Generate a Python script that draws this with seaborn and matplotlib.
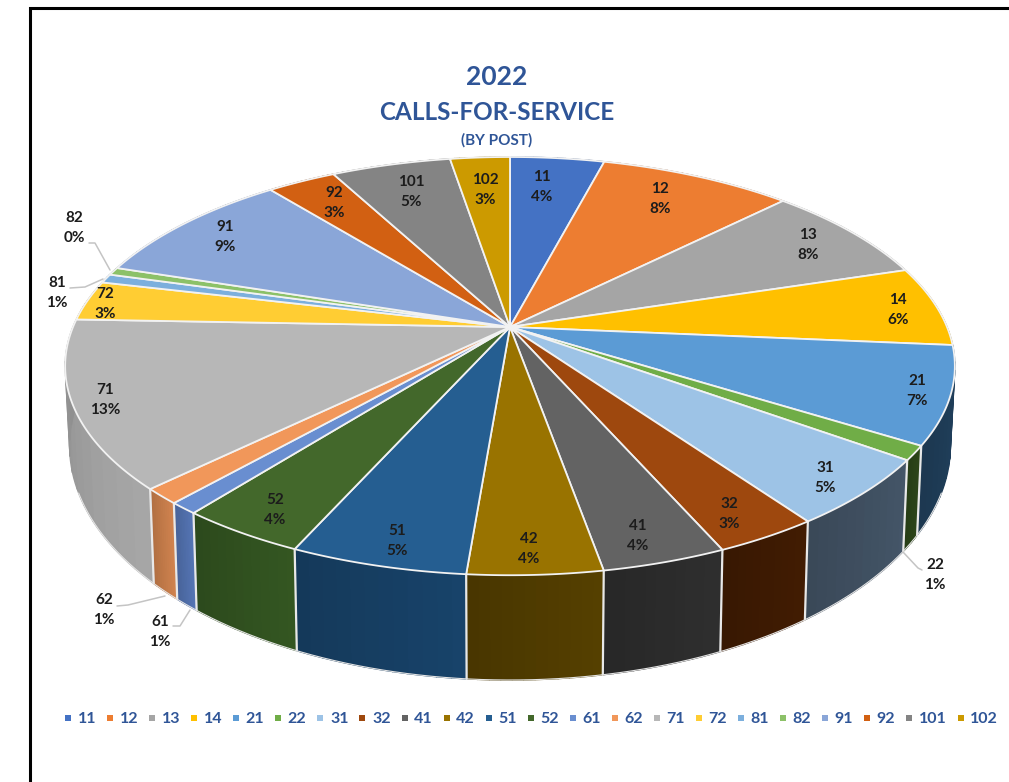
import numpy as np
import pandas as pd
import matplotlib
matplotlib.use("Agg")
import matplotlib.pyplot as plt
import matplotlib.colors as mcolors
import seaborn as sns

sns.set_theme(style="white")
plt.rcParams["font.family"] = ["Lato", "DejaVu Sans"]

# data
posts = ["11", "12", "13", "14", "21", "22", "31", "32", "41", "42", "51",
         "52", "61", "62", "71", "72", "81", "82", "91", "92", "101", "102"]
shares = [4.1, 8.4, 7.7, 6.2, 7.5, 1.1, 5.2, 3.2, 3.8, 4.1, 5.4,
          3.9, 0.9, 1.2, 12.9, 3.1, 0.7, 0.6, 9.2, 3.0, 5.2, 2.6]
share_labels = ["4%", "8%", "8%", "6%", "7%", "1%", "5%", "3%", "4%", "4%", "5%",
                "4%", "1%", "1%", "13%", "3%", "1%", "0%", "9%", "3%", "5%", "3%"]

top_colors = ["#4472C4", "#ED7D31", "#A5A5A5", "#FFC000", "#5B9BD5", "#70AD47",
              "#9DC3E6", "#9E480E", "#636363", "#997300", "#255E91", "#43682B",
              "#698ED0", "#F1975A", "#B7B7B7", "#FFCD33", "#7CAFDD", "#8CC168",
              "#8AA6D8", "#D26012", "#848484", "#CC9A00"]
wall_colors = ["#2B4A80", "#99501F", "#6B6B6B", "#A67C00", "#1F3D58", "#2A4218",
               "#3F4F60", "#3D1A02", "#2B2B2B", "#4F3B00", "#163E62", "#30501F",
               "#4F6DA8", "#C27A49", "#9A9A9A", "#A68521", "#50718F", "#5B7D43",
               "#5D6E8F", "#883E0B", "#555555", "#846400"]

# label centres in pixels
label_xy = [(542, 187), (660, 199), (808, 245), (898, 310), (917, 391), (935, 575),
            (825, 478), (729, 514), (638, 536), (529, 549), (397, 541), (275, 510),
            (160, 632), (104, 610), (105, 400), (105, 304), (57, 293), (74, 228),
            (225, 237), (334, 203), (411, 192), (485, 190)]

leaders = {
    "82": [(89, 243), (95, 243), (110, 270)],
    "81": [(70, 288), (85, 287), (103, 279)],
    "62": [(117, 606), (128, 605), (165, 596)],
    "61": [(173, 626), (180, 626), (190, 610)],
    "22": [(903, 552), (918, 568), (922, 570)],
}

# perspective of the pie disc
cx, cy = 510, 327
A, B, c = 437, 201.8, 0.187
wall_sx, wall_sy, wall_drop = 0.99, 1.12, 75


def project(theta, r=1.0):
    u = r * np.sin(theta)
    v = r * np.cos(theta)
    w = 1 + c * v
    return A * u / w, B * v / w


def top_xy(theta, r=1.0):
    x, y = project(theta, r)
    return cx + x, cy - y


def low_xy(theta):
    x, y = project(theta)
    return cx + wall_sx * x, cy - (wall_sy * y - wall_drop)


fig = plt.figure(figsize=(10.09, 7.82), dpi=100)
ax = fig.add_axes([0, 0, 1, 1])

legend_df = pd.DataFrame({"post": posts, "x": [cx] * len(posts), "y": [cy] * len(posts)})
sns.scatterplot(data=legend_df, x="x", y="y", hue="post", hue_order=posts,
                palette=sns.color_palette(top_colors), marker="s", s=22,
                linewidth=0, zorder=0, ax=ax)

edges = np.cumsum([0] + shares) / sum(shares) * 2 * np.pi

# side wall, slightly shaded along each slice
for i in range(len(posts)):
    base = np.array(mcolors.to_rgb(wall_colors[i]))
    steps = np.linspace(edges[i], edges[i + 1], 13)
    for j in range(12):
        t = np.linspace(steps[j], steps[j + 1], 4)
        xt, yt = top_xy(t)
        xl, yl = low_xy(t)
        shade = 1.08 - 0.16 * j / 11
        col = np.clip(base * shade, 0, 1)
        ax.fill(np.r_[xt, xl[::-1]], np.r_[yt, yl[::-1]], color=col, lw=1.0, zorder=1)
    xt, yt = top_xy(edges[i])
    xl, yl = low_xy(edges[i])
    if np.cos(edges[i]) < -0.3:
        ax.plot([xt, xl], [yt, yl], color="#E8E8E8", lw=1.6, zorder=2)

# lower rim highlight
t = np.linspace(np.radians(112), np.radians(248), 200)
xl, yl = low_xy(t)
ax.plot(xl, yl, color="#E4E4E4", lw=0.8, zorder=2)

# top of the pie
for i in range(len(posts)):
    t = np.linspace(edges[i], edges[i + 1], 60)
    xt, yt = top_xy(t)
    ax.fill(np.r_[cx, xt], np.r_[cy, yt], facecolor=top_colors[i],
            edgecolor="#F2F2F2", lw=1.3, joinstyle="round", zorder=3)

for i, post in enumerate(posts):
    ax.text(label_xy[i][0], label_xy[i][1], post + "\n" + share_labels[i],
            ha="center", va="center", fontsize=11, fontweight="bold",
            color="#1C1C1C", linespacing=1.53, zorder=5)

for pts in leaders.values():
    xs, ys = zip(*pts)
    ax.plot(xs, ys, color="#C4C4C4", lw=1.1, zorder=4)

title_color = "#2F5597"
ax.text(497, 77, "2022", ha="center", va="center", fontsize=19, fontweight="bold", color=title_color)
ax.text(497, 112, "CALLS-FOR-SERVICE", ha="center", va="center", fontsize=17.5, fontweight="bold", color=title_color)
ax.text(497, 140, "(BY POST)", ha="center", va="center", fontsize=11, fontweight="bold", color=title_color)

# page frame, only top and left are in the crop
ax.plot([29.5, 29.5, 1009], [782, 7.5, 7.5], color="black", lw=2.2, zorder=6, solid_joinstyle="miter")

ax.set_xlim(0, 1009)
ax.set_ylim(782, 0)
ax.set_xlabel("")
ax.set_ylabel("")
ax.axis("off")

sns.move_legend(ax, "center left", bbox_to_anchor=(60 / 1009, 1 - 719 / 782), ncol=len(posts),
                title=None, frameon=False, borderpad=0, borderaxespad=0,
                handlelength=1.0, handletextpad=0.1, columnspacing=0.37,
                prop={"size": 11.5, "weight": "bold", "family": "Lato"}, labelcolor=title_color)

fig.savefig("out.png", dpi=100)
